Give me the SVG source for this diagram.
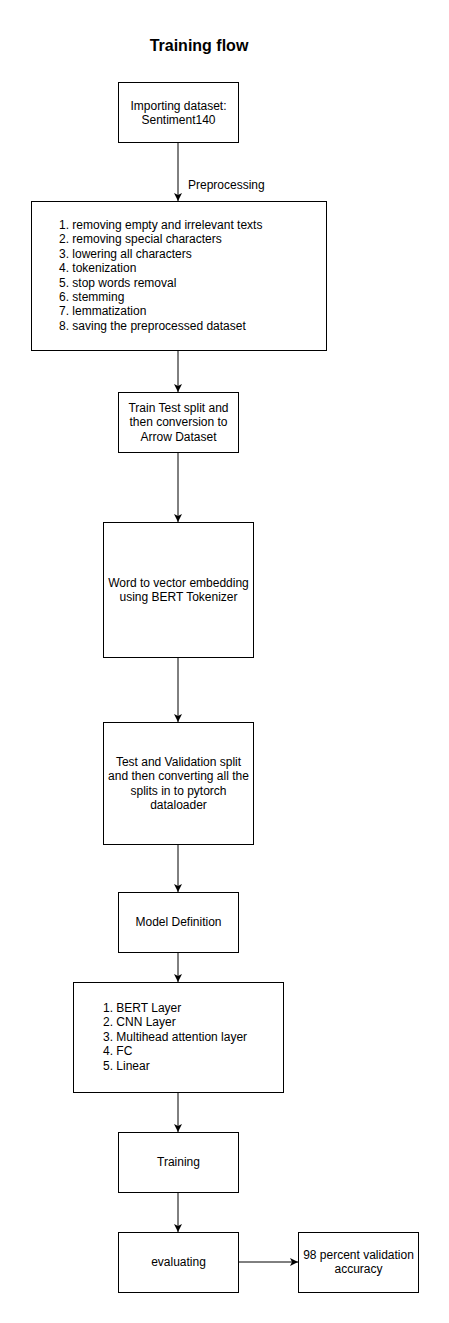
<svg xmlns="http://www.w3.org/2000/svg" width="449" height="1323" viewBox="0 0 449 1323">
<style>
.box{fill:#fff;stroke:#000;stroke-width:1}
.t{font-family:"Liberation Sans",Arial,Helvetica,sans-serif;font-size:12px;fill:#000}
.c{text-anchor:middle}
.edge{stroke:#000;stroke-width:1;fill:none}
.title{font-family:"Liberation Sans",Arial,Helvetica,sans-serif;font-size:16px;font-weight:bold;text-anchor:middle;fill:#000}
</style>
<defs>
<marker id="ah" viewBox="0 0 10 10" refX="10" refY="5" markerWidth="8" markerHeight="8" markerUnits="userSpaceOnUse" orient="auto">
<path d="M0,0 L10,5 L0,10 L2.5,5 Z" fill="#000"/>
</marker>
</defs>
<rect width="449" height="1323" fill="#fff"/>
<text class="title" x="199" y="51">Training flow</text>
<g id="connectors">
<line class="edge" x1="178" y1="142" x2="178" y2="201" marker-end="url(#ah)"/>
<text class="t" x="188" y="189">Preprocessing</text>
<line class="edge" x1="178" y1="350" x2="178" y2="392" marker-end="url(#ah)"/>
<line class="edge" x1="178" y1="452" x2="178" y2="522" marker-end="url(#ah)"/>
<line class="edge" x1="178" y1="657" x2="178" y2="722" marker-end="url(#ah)"/>
<line class="edge" x1="178" y1="844" x2="178" y2="892" marker-end="url(#ah)"/>
<line class="edge" x1="178" y1="952" x2="178" y2="982" marker-end="url(#ah)"/>
<line class="edge" x1="178" y1="1092" x2="178" y2="1132" marker-end="url(#ah)"/>
<line class="edge" x1="178" y1="1192" x2="178" y2="1232" marker-end="url(#ah)"/>
<line class="edge" x1="238" y1="1262" x2="298" y2="1262" marker-end="url(#ah)"/>
</g>
<g id="n1">
<rect class="box" x="118.5" y="82.5" width="120" height="60"/>
<text class="t c" x="178.5" y="110">Importing dataset:</text>
<text class="t c" x="178.5" y="124">Sentiment140</text>
</g>
<g id="n2">
<rect class="box" x="31.5" y="201.5" width="295" height="149"/>
<text class="t" x="59" y="229">1. removing empty and irrelevant texts</text>
<text class="t" x="59" y="243.4">2. removing special characters</text>
<text class="t" x="59" y="257.8">3. lowering all characters</text>
<text class="t" x="59" y="272.2">4. tokenization</text>
<text class="t" x="59" y="286.6">5. stop words removal</text>
<text class="t" x="59" y="301">6. stemming</text>
<text class="t" x="59" y="315.4">7. lemmatization</text>
<text class="t" x="59" y="329.8">8. saving the preprocessed dataset</text>
</g>
<g id="n3">
<rect class="box" x="118.5" y="392.5" width="120" height="60"/>
<text class="t c" x="178.5" y="412">Train Test split and</text>
<text class="t c" x="178.5" y="426.4">then conversion to</text>
<text class="t c" x="178.5" y="440.8">Arrow Dataset</text>
</g>
<g id="n4">
<rect class="box" x="103.5" y="522.5" width="150" height="135"/>
<text class="t c" x="178.5" y="587">Word to vector embedding</text>
<text class="t c" x="178.5" y="601.4">using BERT Tokenizer</text>
</g>
<g id="n5">
<rect class="box" x="103.5" y="722.5" width="150" height="122"/>
<text class="t c" x="178.5" y="766">Test and Validation split</text>
<text class="t c" x="178.5" y="780.4">and then converting all the</text>
<text class="t c" x="178.5" y="794.8">splits in to pytorch</text>
<text class="t c" x="178.5" y="809.2">dataloader</text>
</g>
<g id="n6">
<rect class="box" x="118.5" y="892.5" width="120" height="60"/>
<text class="t c" x="178.5" y="926">Model Definition</text>
</g>
<g id="n7">
<rect class="box" x="73.5" y="982.5" width="210" height="110"/>
<text class="t" x="103" y="1012">1. BERT Layer</text>
<text class="t" x="103" y="1026.4">2. CNN Layer</text>
<text class="t" x="103" y="1040.8">3. Multihead attention layer</text>
<text class="t" x="103" y="1055.2">4. FC</text>
<text class="t" x="103" y="1069.6">5. Linear</text>
</g>
<g id="n8">
<rect class="box" x="118.5" y="1132.5" width="120" height="60"/>
<text class="t c" x="178.5" y="1166">Training</text>
</g>
<g id="n9">
<rect class="box" x="118.5" y="1232.5" width="120" height="60"/>
<text class="t c" x="178.5" y="1266">evaluating</text>
</g>
<g id="n10">
<rect class="box" x="298.5" y="1232.5" width="120" height="60"/>
<text class="t c" x="358.5" y="1259">98 percent validation</text>
<text class="t c" x="358.5" y="1273.4">accuracy</text>
</g>
</svg>
